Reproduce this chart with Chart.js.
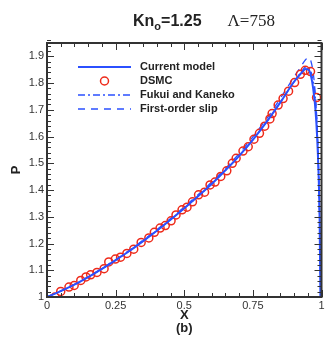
<!DOCTYPE html>
<html>
<head>
<meta charset="utf-8">
<script src="https://cdn.jsdelivr.net/npm/chart.js"></script>
<style>
  body { margin: 0; background: #fff; }
  #wrap { position: relative; width: 327px; height: 338px; }
  #title { position: absolute; left: 133px; top: 11px; white-space: nowrap; color: #222; }
  #title .kn { font: bold 16px "Liberation Sans", Arial, sans-serif; }
  #title sub { font-size: 11px; }
  #title .lam { font: 17px "Liberation Serif", "Times New Roman", serif; margin-left: 26px; }
</style>
</head>
<body>
<div id="wrap">
  <canvas id="chart" width="327" height="338"></canvas>
  <div id="title"><span class="kn">Kn<sub>o</sub>=1.25</span><span class="lam">Λ=758</span></div>
</div>
<script>
// tick labels
const xTicks = [0, 0.25, 0.5, 0.75, 1];
const yTicks = [1, 1.1, 1.2, 1.3, 1.4, 1.5, 1.6, 1.7, 1.8, 1.9];

// current model
const modelX = [0, 0.05, 0.1, 0.15, 0.2, 0.25, 0.3, 0.35, 0.4, 0.45, 0.5, 0.55, 0.6, 0.65, 0.7, 0.75, 0.8, 0.85, 0.9, 0.925, 0.943, 0.955, 0.965, 0.972, 0.978, 0.984, 0.989, 0.993, 0.996];
const modelP = [1, 1.022, 1.046, 1.074, 1.105, 1.138, 1.172, 1.209, 1.248, 1.289, 1.332, 1.377, 1.423, 1.474, 1.528, 1.588, 1.655, 1.728, 1.805, 1.836, 1.853, 1.848, 1.81, 1.76, 1.70, 1.60, 1.47, 1.30, 1.0];

// DSMC
const dsmcX = [0.029, 0.05, 0.08, 0.099, 0.123, 0.142, 0.159, 0.182, 0.208, 0.225, 0.249, 0.268, 0.291, 0.316, 0.343, 0.371, 0.391, 0.412, 0.431, 0.452, 0.47, 0.492, 0.51, 0.53, 0.552, 0.574, 0.594, 0.612, 0.633, 0.655, 0.675, 0.689, 0.714, 0.733, 0.754, 0.774, 0.793, 0.812, 0.82, 0.842, 0.86, 0.88, 0.902, 0.923, 0.941, 0.96, 0.982];
const dsmcP = [1.0, 1.021, 1.037, 1.043, 1.062, 1.075, 1.083, 1.092, 1.106, 1.131, 1.142, 1.149, 1.163, 1.179, 1.204, 1.221, 1.242, 1.258, 1.267, 1.285, 1.307, 1.326, 1.336, 1.356, 1.382, 1.392, 1.419, 1.43, 1.451, 1.472, 1.5, 1.519, 1.546, 1.562, 1.59, 1.612, 1.639, 1.666, 1.686, 1.718, 1.742, 1.77, 1.802, 1.833, 1.848, 1.843, 1.746];

// Fukui and Kaneko
const fukuiX = [0, 0.1, 0.2, 0.3, 0.4, 0.5, 0.6, 0.7, 0.8, 0.85, 0.9, 0.925, 0.945, 0.955, 0.965, 0.975, 0.982, 0.988, 0.993, 0.997];
const fukuiP = [1, 1.046, 1.105, 1.172, 1.248, 1.332, 1.423, 1.528, 1.655, 1.728, 1.805, 1.84, 1.862, 1.858, 1.83, 1.77, 1.68, 1.52, 1.3, 1.0];

// first-order slip
const slipX = [0, 0.1, 0.2, 0.3, 0.4, 0.5, 0.6, 0.7, 0.8, 0.85, 0.9, 0.925, 0.94, 0.952, 0.962, 0.972, 0.98, 0.987, 0.993, 0.998];
const slipP = [1, 1.047, 1.107, 1.175, 1.252, 1.337, 1.43, 1.537, 1.667, 1.743, 1.823, 1.862, 1.885, 1.895, 1.88, 1.82, 1.72, 1.57, 1.3, 1.0];

const xMinorStep = 0.05;
const yMinorStep = 0.02;

const BLUE = "#2b50ff";
const RED = "#ee2a1a";
const INK = "#333";
const FONT = "'Liberation Sans', Arial, sans-serif";

const pts = (xs, ys) => xs.map((x, i) => ({ x: x, y: ys[i] }));
const fmt = v => String(+v.toFixed(2));

// inward ticks + frame box
const frameTicks = {
    id: "frameTicks",
    afterDraw(chart) {
        const { ctx, chartArea: a, scales: { x, y } } = chart;
        ctx.save();
        ctx.strokeStyle = INK;
        ctx.lineWidth = 1;
        let n = Math.round((x.max - x.min) / xMinorStep);
        for (let i = 0; i <= n; i++) {
            const v = x.min + i * xMinorStep;
            const major = xTicks.some(t => Math.abs(t - v) < 1e-6);
            const len = major ? 7 : 4;
            const px = Math.round(x.getPixelForValue(v)) + 0.5;
            ctx.beginPath();
            ctx.moveTo(px, a.bottom); ctx.lineTo(px, a.bottom - len);
            ctx.moveTo(px, a.top); ctx.lineTo(px, a.top + len);
            ctx.stroke();
        }
        n = Math.round((y.max - y.min) / yMinorStep);
        for (let i = 0; i <= n; i++) {
            const v = y.min + i * yMinorStep;
            const major = yTicks.some(t => Math.abs(t - v) < 1e-6);
            const len = major ? 7 : 4;
            const py = Math.round(y.getPixelForValue(v)) + 0.5;
            ctx.beginPath();
            ctx.moveTo(a.left, py); ctx.lineTo(a.left + len, py);
            ctx.moveTo(a.right, py); ctx.lineTo(a.right - len, py);
            ctx.stroke();
        }
        ctx.lineWidth = 2;
        ctx.strokeRect(a.left, a.top, a.right - a.left, a.bottom - a.top);
        ctx.restore();
    }
};

// legend drawn inside the plot, top-left
const innerLegend = {
    id: "innerLegend",
    afterDraw(chart) {
        const ctx = chart.ctx;
        const x0 = 78, x1 = 131, tx = 140;
        let yy = 67;
        ctx.save();
        chart.data.datasets.forEach(ds => {
            ctx.strokeStyle = ds.borderColor;
            ctx.lineWidth = ds.borderWidth;
            if (ds.showLine === false) {
                ctx.setLineDash([]);
                ctx.beginPath();
                ctx.arc((x0 + x1) / 2, yy, ds.pointRadius, 0, Math.PI * 2);
                ctx.stroke();
            } else {
                ctx.setLineDash(ds.borderDash || []);
                ctx.beginPath();
                ctx.moveTo(x0, yy); ctx.lineTo(x1, yy);
                ctx.stroke();
            }
            ctx.setLineDash([]);
            ctx.fillStyle = "#222";
            ctx.font = "bold 11px " + FONT;
            ctx.textBaseline = "middle";
            ctx.fillText(ds.label, tx, yy);
            yy += 14;
        });
        ctx.restore();
    }
};

new Chart(document.getElementById("chart").getContext("2d"), {
    type: "scatter",
    data: {
        datasets: [{
            label: "Current model",
            data: pts(modelX, modelP),
            showLine: true,
            borderColor: BLUE,
            borderWidth: 2,
            pointRadius: 0,
            cubicInterpolationMode: "monotone"
        }, {
            label: "DSMC",
            data: pts(dsmcX, dsmcP),
            showLine: false,
            borderColor: RED,
            backgroundColor: "rgba(0,0,0,0)",
            borderWidth: 1.5,
            pointRadius: 4
        }, {
            label: "Fukui and Kaneko",
            data: pts(fukuiX, fukuiP),
            showLine: true,
            borderColor: BLUE,
            borderWidth: 1.3,
            borderDash: [7, 3, 2, 3],
            pointRadius: 0,
            cubicInterpolationMode: "monotone"
        }, {
            label: "First-order slip",
            data: pts(slipX, slipP),
            showLine: true,
            borderColor: BLUE,
            borderWidth: 1.3,
            borderDash: [7, 6],
            pointRadius: 0,
            cubicInterpolationMode: "monotone"
        }]
    },
    options: {
        responsive: false,
        animation: false,
        layout: { padding: { top: 43, right: 4, left: 0, bottom: 0 } },
        plugins: {
            legend: { display: false },
            tooltip: { enabled: false }
        },
        scales: {
            x: {
                type: "linear",
                min: 0,
                max: 1,
                afterBuildTicks: s => { s.ticks = xTicks.map(v => ({ value: v })); },
                afterFit: s => { s.height = 41; },
                grid: { display: false, drawTicks: false },
                border: { display: false },
                ticks: { callback: v => fmt(v), color: INK, padding: 2, maxRotation: 0, font: { family: FONT, size: 11 } },
                title: { display: true, text: ["X", "(b)"], color: "#222", padding: { top: 0, bottom: 3 }, font: { family: FONT, size: 13, weight: "bold", lineHeight: 1 } }
            },
            y: {
                type: "linear",
                min: 1,
                max: 1.95,
                afterBuildTicks: s => { s.ticks = yTicks.map(v => ({ value: v })); },
                afterFit: s => { s.width = 47; },
                grid: { display: false, drawTicks: false },
                border: { display: false },
                ticks: { callback: v => fmt(v), color: INK, padding: 3, font: { family: FONT, size: 11 } },
                title: { display: true, text: "P", color: "#222", padding: { top: 10, bottom: 0 }, font: { family: FONT, size: 13, weight: "bold", lineHeight: 1 } }
            }
        }
    },
    plugins: [frameTicks, innerLegend]
});
</script>
</body>
</html>
